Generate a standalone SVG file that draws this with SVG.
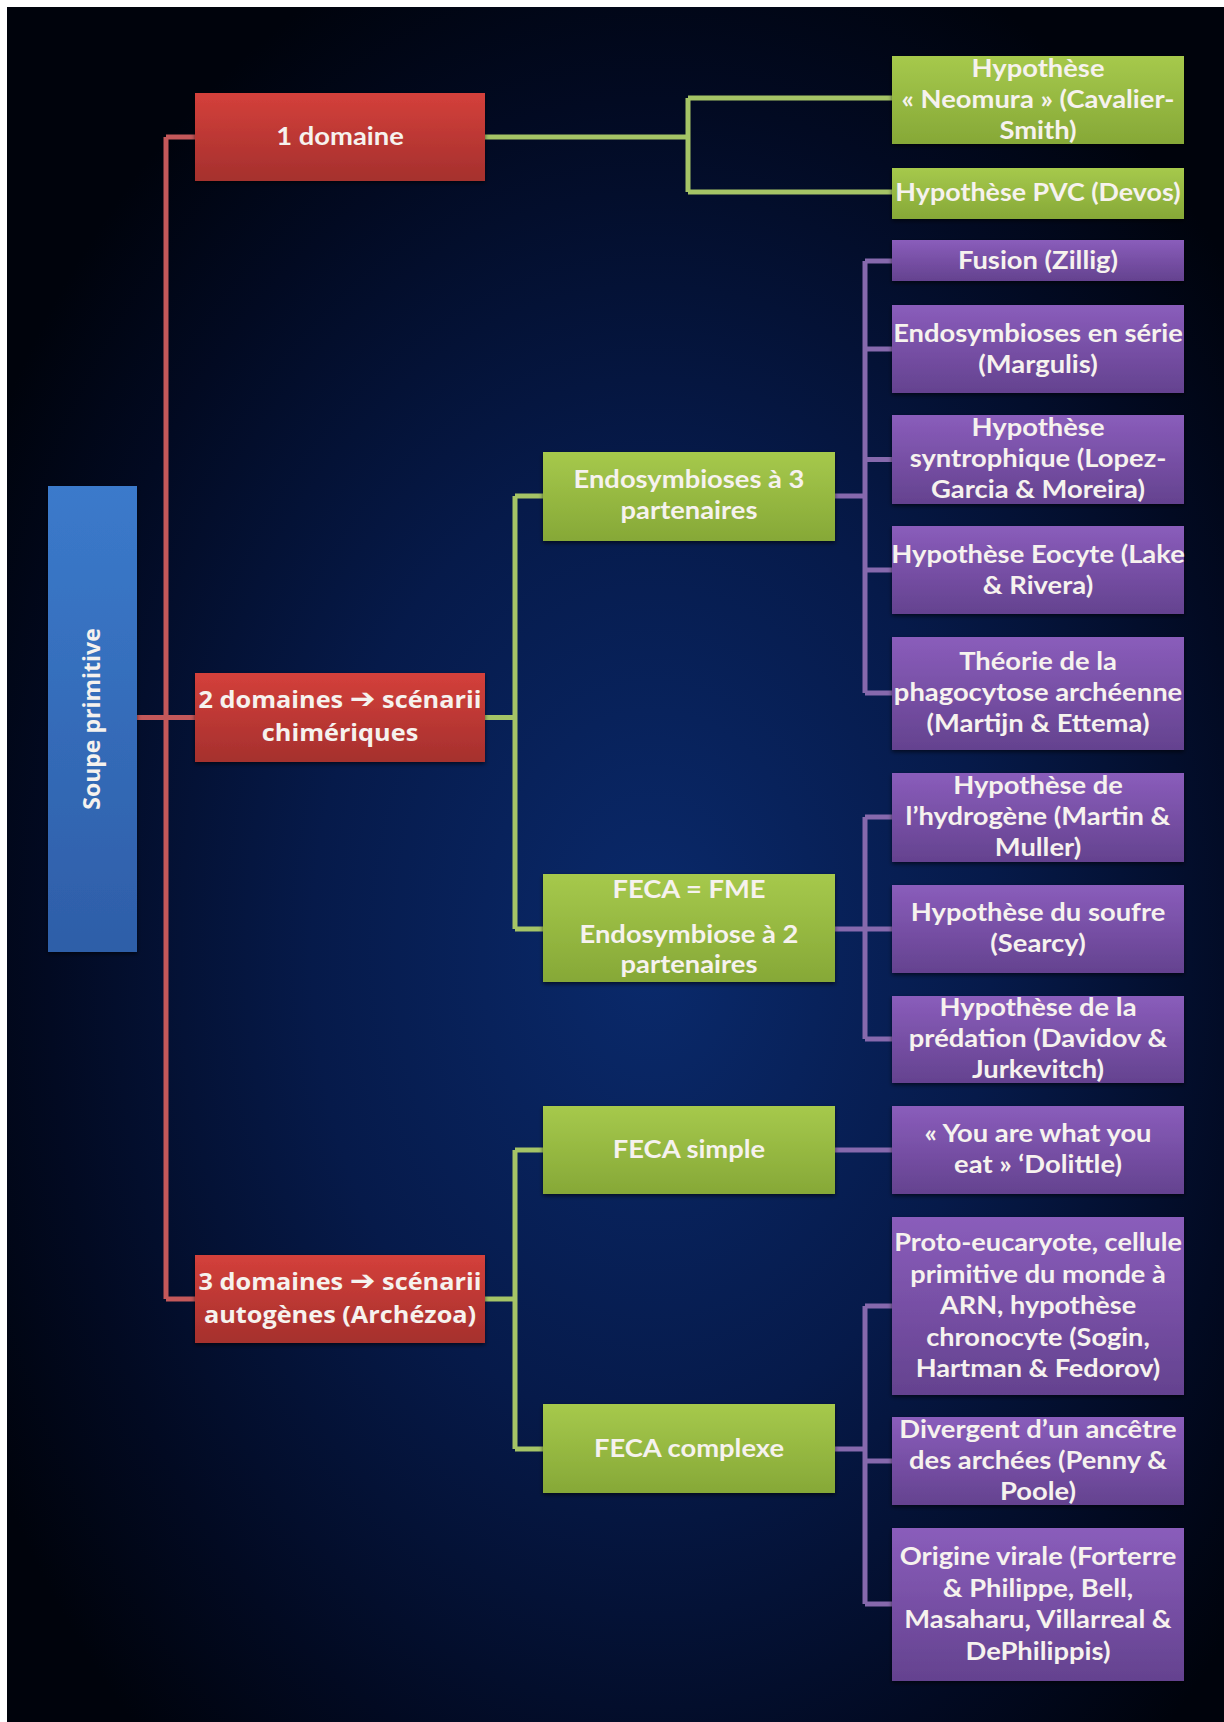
<svg xmlns="http://www.w3.org/2000/svg" width="1224" height="1722" viewBox="0 0 1224 1722">
  <defs>
    <radialGradient id="bg" cx="0.53" cy="0.55" r="0.62">
      <stop offset="0" stop-color="#0a2a6c"/>
      <stop offset="0.45" stop-color="#061a4a"/>
      <stop offset="0.8" stop-color="#020a22"/>
      <stop offset="1" stop-color="#00030c"/>
    </radialGradient>
    <linearGradient id="gRed" x1="0" y1="0" x2="0" y2="1">
      <stop offset="0" stop-color="#d4403b"/>
      <stop offset="1" stop-color="#a5302d"/>
    </linearGradient>
    <linearGradient id="gGreen" x1="0" y1="0" x2="0" y2="1">
      <stop offset="0" stop-color="#a6c94c"/>
      <stop offset="1" stop-color="#86a837"/>
    </linearGradient>
    <linearGradient id="gPurple" x1="0" y1="0" x2="0" y2="1">
      <stop offset="0" stop-color="#8a5dbb"/>
      <stop offset="1" stop-color="#64428f"/>
    </linearGradient>
    <linearGradient id="gBlue" x1="0" y1="0" x2="0" y2="1">
      <stop offset="0" stop-color="#3b7acb"/>
      <stop offset="1" stop-color="#2e5ea8"/>
    </linearGradient>
    <filter id="shadow" x="-10%" y="-10%" width="120%" height="130%">
      <feDropShadow dx="0" dy="2" stdDeviation="2" flood-color="#000" flood-opacity="0.6"/>
    </filter>
  </defs>
  <style>
    .red rect { fill: url(#gRed); filter: url(#shadow); }
    .green rect { fill: url(#gGreen); filter: url(#shadow); }
    .purple rect { fill: url(#gPurple); filter: url(#shadow); }
    .blue rect { fill: url(#gBlue); filter: url(#shadow); }
    text { fill: #f6f2ee; font-weight: bold; text-anchor: middle; }
    .c text { font-family: "Lato", "Liberation Sans", "DejaVu Sans", sans-serif; font-size: 24px; }
    .s text, text.s { font-family: "Open Sans", "DejaVu Sans", sans-serif; font-size: 23px; }
    .arr { font-family: "DejaVu Sans", sans-serif; font-size: 28px; }
    .ln { fill: none; stroke-width: 5; stroke-linejoin: miter; stroke-linecap: butt; }
    .lr { stroke: #c4585a; }
    .lg { stroke: #a5c466; }
    .lp { stroke: #8669ad; }
  </style>

  <!-- page background with white margin on top and left -->
  <rect x="0" y="0" width="1224" height="1722" fill="#ffffff"/>
  <rect x="7" y="7" width="1217" height="1715" fill="url(#bg)"/>

  <!-- connectors -->
  <g id="connectors">
    <path class="ln lr" d="M137,717.5 H195 M166,137 V1299 M166,137 H195 M166,1299 H195"/>
    <path class="ln lg" d="M485,137 H688 M688,98 V192 M688,98 H892 M688,192 H892"/>
    <path class="ln lg" d="M485,717.5 H515 M515,496 V929 M515,496 H543 M515,929 H543"/>
    <path class="ln lg" d="M485,1299 H515 M515,1150 V1449 M515,1150 H543 M515,1449 H543"/>
    <path class="ln lp" d="M835,496 H865 M865,261 V693 M865,261 H892 M865,349 H892 M865,459.5 H892 M865,570 H892 M865,693 H892"/>
    <path class="ln lp" d="M835,929 H892 M865,817 V1039 M865,817 H892 M865,1039 H892"/>
    <path class="ln lp" d="M835,1150 H892"/>
    <path class="ln lp" d="M835,1449 H865 M865,1306 V1604 M865,1306 H892 M865,1461 H892 M865,1604 H892"/>
  </g>

  <!-- root -->
  <g id="n_soupe" class="blue">
    <rect x="48" y="486" width="89" height="466"/>
    <text class="s" font-size="24" transform="translate(100,719) rotate(-90)" x="0" y="0">Soupe primitive</text>
  </g>

  <!-- domain level -->
  <g id="n_d1" class="red">
    <rect x="195" y="93" width="290" height="88"/>
    <g class="c" transform="translate(340 0) scale(1.14 1)">
      <text x="0" y="145.5">1 domaine</text>
    </g>
  </g>
  <g id="n_d2" class="red">
    <rect x="195" y="673" width="290" height="89"/>
    <g class="s" transform="translate(340 0) scale(1.1 1)">
      <text x="0" y="708">2 domaines <tspan class="arr">➔</tspan> scénarii</text>
      <text x="0" y="741">chimériques</text>
    </g>
  </g>
  <g id="n_d3" class="red">
    <rect x="195" y="1255" width="290" height="88"/>
    <g class="s" transform="translate(340 0) scale(1.1 1)">
      <text x="0" y="1290">3 domaines <tspan class="arr">➔</tspan> scénarii</text>
      <text x="0" y="1323">autogènes (Archézoa)</text>
    </g>
  </g>

  <!-- scenario level -->
  <g id="n_endo3" class="green">
    <rect x="543" y="452" width="292" height="89"/>
    <g class="c" transform="translate(689 0) scale(1.14 1)">
      <text x="0" y="488.5">Endosymbioses à 3</text>
      <text x="0" y="519.5">partenaires</text>
    </g>
  </g>
  <g id="n_feca_fme" class="green">
    <rect x="543" y="874" width="292" height="108"/>
    <g class="c" transform="translate(689 0) scale(1.14 1)">
      <text x="0" y="898.5">FECA = FME</text>
      <text x="0" y="943.5">Endosymbiose à 2</text>
      <text x="0" y="973.5">partenaires</text>
    </g>
  </g>
  <g id="n_feca_simple" class="green">
    <rect x="543" y="1106" width="292" height="88"/>
    <g class="c" transform="translate(689 0) scale(1.14 1)">
      <text x="0" y="1158.5">FECA simple</text>
    </g>
  </g>
  <g id="n_feca_complexe" class="green">
    <rect x="543" y="1404" width="292" height="89"/>
    <g class="c" transform="translate(689 0) scale(1.14 1)">
      <text x="0" y="1457.5">FECA complexe</text>
    </g>
  </g>

  <!-- hypotheses -->
  <g id="n_neomura" class="green">
    <rect x="892" y="56" width="292" height="88"/>
    <g class="c" transform="translate(1038 0) scale(1.14 1)">
      <text x="0" y="77.5">Hypothèse</text>
      <text x="0" y="108.5">« Neomura » (Cavalier-</text>
      <text x="0" y="139.5">Smith)</text>
    </g>
  </g>
  <g id="n_pvc" class="green">
    <rect x="892" y="168" width="292" height="51"/>
    <g class="c" transform="translate(1038 0) scale(1.12 1)">
      <text x="0" y="201.5">Hypothèse PVC (Devos)</text>
    </g>
  </g>
  <g id="n_fusion" class="purple">
    <rect x="892" y="240" width="292" height="41"/>
    <g class="c" transform="translate(1038 0) scale(1.14 1)">
      <text x="0" y="269.5">Fusion (Zillig)</text>
    </g>
  </g>
  <g id="n_serie" class="purple">
    <rect x="892" y="305" width="292" height="88"/>
    <g class="c" transform="translate(1038 0) scale(1.14 1)">
      <text x="0" y="342">Endosymbioses en série</text>
      <text x="0" y="373">(Margulis)</text>
    </g>
  </g>
  <g id="n_syntro" class="purple">
    <rect x="892" y="415" width="292" height="89"/>
    <g class="c" transform="translate(1038 0) scale(1.14 1)">
      <text x="0" y="436.5">Hypothèse</text>
      <text x="0" y="467.5">syntrophique (Lopez-</text>
      <text x="0" y="498.5">Garcia &amp; Moreira)</text>
    </g>
  </g>
  <g id="n_eocyte" class="purple">
    <rect x="892" y="526" width="292" height="88"/>
    <g class="c" transform="translate(1038 0) scale(1.14 1)">
      <text x="0" y="563">Hypothèse Eocyte (Lake</text>
      <text x="0" y="594">&amp; Rivera)</text>
    </g>
  </g>
  <g id="n_phago" class="purple">
    <rect x="892" y="637" width="292" height="113"/>
    <g class="c" transform="translate(1038 0) scale(1.14 1)">
      <text x="0" y="670.5">Théorie de la</text>
      <text x="0" y="701.5">phagocytose archéenne</text>
      <text x="0" y="732.5">(Martijn &amp; Ettema)</text>
    </g>
  </g>
  <g id="n_hydro" class="purple">
    <rect x="892" y="773" width="292" height="89"/>
    <g class="c" transform="translate(1038 0) scale(1.14 1)">
      <text x="0" y="794.5">Hypothèse de</text>
      <text x="0" y="825.5">l’hydrogène (Martin &amp;</text>
      <text x="0" y="856.5">Muller)</text>
    </g>
  </g>
  <g id="n_soufre" class="purple">
    <rect x="892" y="885" width="292" height="88"/>
    <g class="c" transform="translate(1038 0) scale(1.14 1)">
      <text x="0" y="921.5">Hypothèse du soufre</text>
      <text x="0" y="952.5">(Searcy)</text>
    </g>
  </g>
  <g id="n_preda" class="purple">
    <rect x="892" y="996" width="292" height="87"/>
    <g class="c" transform="translate(1038 0) scale(1.14 1)">
      <text x="0" y="1016.5">Hypothèse de la</text>
      <text x="0" y="1047.5">prédation (Davidov &amp;</text>
      <text x="0" y="1078.5">Jurkevitch)</text>
    </g>
  </g>
  <g id="n_eat" class="purple">
    <rect x="892" y="1106" width="292" height="88"/>
    <g class="c" transform="translate(1038 0) scale(1.14 1)">
      <text x="0" y="1142.5">« You are what you</text>
      <text x="0" y="1173.5">eat » ‘Dolittle)</text>
    </g>
  </g>
  <g id="n_proto" class="purple">
    <rect x="892" y="1217" width="292" height="178"/>
    <g class="c" transform="translate(1038 0) scale(1.13 1)">
      <text x="0" y="1251.5">Proto-eucaryote, cellule</text>
      <text x="0" y="1283">primitive du monde à</text>
      <text x="0" y="1314.5">ARN, hypothèse</text>
      <text x="0" y="1346">chronocyte (Sogin,</text>
      <text x="0" y="1377.5">Hartman &amp; Fedorov)</text>
    </g>
  </g>
  <g id="n_diverg" class="purple">
    <rect x="892" y="1417" width="292" height="88"/>
    <g class="c" transform="translate(1038 0) scale(1.14 1)">
      <text x="0" y="1438.5">Divergent d’un ancêtre</text>
      <text x="0" y="1469.5">des archées (Penny &amp;</text>
      <text x="0" y="1500.5">Poole)</text>
    </g>
  </g>
  <g id="n_origine" class="purple">
    <rect x="892" y="1528" width="292" height="153"/>
    <g class="c" transform="translate(1038 0) scale(1.14 1)">
      <text x="0" y="1565.5">Origine virale (Forterre</text>
      <text x="0" y="1597">&amp; Philippe, Bell,</text>
      <text x="0" y="1628.5">Masaharu, Villarreal &amp;</text>
      <text x="0" y="1660">DePhilippis)</text>
    </g>
  </g>
</svg>
